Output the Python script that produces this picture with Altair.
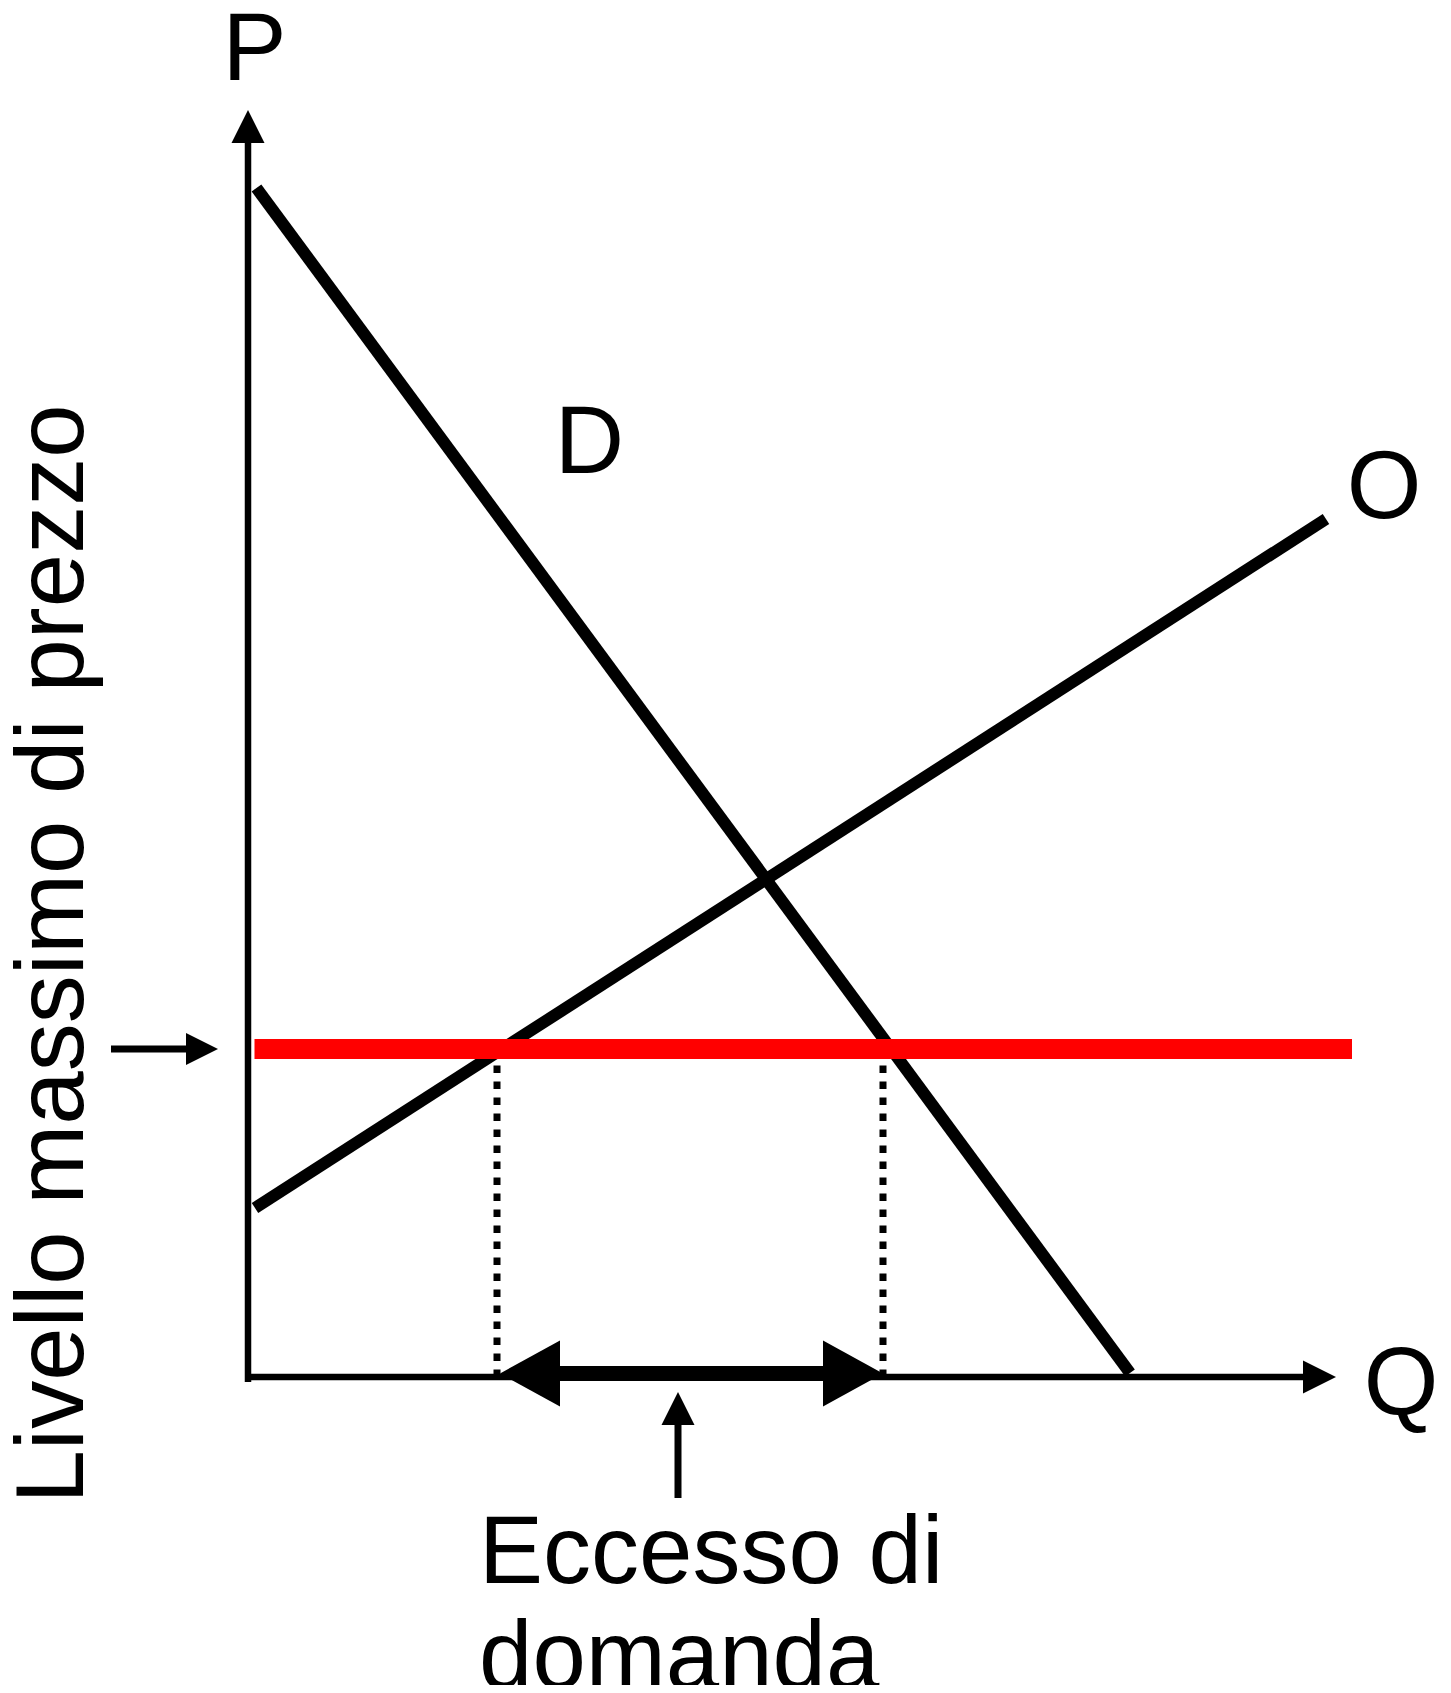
import altair as alt
import pandas as pd

# ---- data (units: Q horizontal, P vertical; 1 unit = 10 px) ----
demand_q = [0.85, 88.2]
demand_p = [118.9, 0.4]
supply_q = [0.7, 107.8]
supply_p = [16.9, 85.8]
ceiling_p = 32.8
ceiling_q = [0.65, 110.4]
qs_at_ceiling = 24.9   # quantity supplied at the ceiling
qd_at_ceiling = 63.5   # quantity demanded at the ceiling

# axes
y_axis_q = 0.0
y_axis_p = [-0.5, 123.4, 126.7]   # bottom, head base, tip
x_axis_p = 0.0
x_axis_q = [-0.3, 105.5, 108.8]   # left, head base, tip

# annotation arrows
excess_arrow_p = 0.35
excess_tips = [25.2, 63.5]
excess_bases = [31.2, 57.6]
pointer_q = [-13.7, -6.2, -3.0]    # start, head base, tip (at ceiling price)
up_arrow_q = 43.0
up_arrow_p = [-12.1, -4.8, -1.5]   # start, head base, tip

# labels
labels = ["P", "Q", "D", "O"]
label_q = [0.65, 115.3, 34.15, 113.6]
label_p = [129.7, -3.8, 90.4, 85.9]
ytitle = "Livello massimo di prezzo"
ytitle_q, ytitle_p = -16.5, 42.3
excess_lines = ["Eccesso di", "domanda"]
excess_q = 23.1
excess_p = [-20.6, -31.1]

FONT = "Liberation Sans"
FS = 96

xs = alt.Scale(domain=[-24.0, 119.5], nice=False, zero=False)
ys = alt.Scale(domain=[-30.8, 136.9], nice=False, zero=False)


def X(f):
    return alt.X(f, type="quantitative", scale=xs, axis=None)


def Y(f):
    return alt.Y(f, type="quantitative", scale=ys, axis=None)


# curves
curves = pd.DataFrame({
    "q": demand_q + supply_q,
    "p": demand_p + supply_p,
    "s": ["D", "D", "O", "O"],
})
curve_layer = alt.Chart(curves).mark_line(color="black", strokeWidth=12, strokeCap="butt").encode(
    x=X("q"), y=Y("p"), detail="s:N")

# axes lines
axes = pd.DataFrame({
    "q": [y_axis_q, x_axis_q[0]],
    "q2": [y_axis_q, x_axis_q[1]],
    "p": [y_axis_p[0], x_axis_p],
    "p2": [y_axis_p[1], x_axis_p],
})
axes_layer = alt.Chart(axes).mark_rule(color="black", strokeWidth=6.5).encode(
    x=X("q"), x2="q2", y=Y("p"), y2="p2")

# dotted drop lines
drops = pd.DataFrame({
    "q": [qs_at_ceiling, qd_at_ceiling],
    "p": [0.0, 0.0],
    "p2": [ceiling_p, ceiling_p],
})
drop_layer = alt.Chart(drops).mark_rule(color="black", strokeWidth=7, strokeDash=[7.5, 8.5]).encode(
    x=X("q"), y=Y("p"), y2="p2")

# price ceiling
ceil = pd.DataFrame({"q": [ceiling_q[0]], "q2": [ceiling_q[1]], "p": [ceiling_p]})
ceil_layer = alt.Chart(ceil).mark_rule(color="#ff0000", strokeWidth=20, strokeCap="butt").encode(
    x=X("q"), x2="q2", y=Y("p"))

# arrow shafts
excess_shaft = pd.DataFrame({"q": [excess_bases[0] - 0.5], "q2": [excess_bases[1] + 0.5],
                             "p": [excess_arrow_p]})
excess_shaft_layer = alt.Chart(excess_shaft).mark_rule(color="black", strokeWidth=15).encode(
    x=X("q"), x2="q2", y=Y("p"))

thin_shafts = pd.DataFrame({
    "q": [pointer_q[0], up_arrow_q],
    "q2": [pointer_q[1] + 0.3, up_arrow_q],
    "p": [ceiling_p, up_arrow_p[0]],
    "p2": [ceiling_p, up_arrow_p[1] + 0.3],
})
thin_shaft_layer = alt.Chart(thin_shafts).mark_rule(color="black", strokeWidth=7).encode(
    x=X("q"), x2="q2", y=Y("p"), y2="p2")

# arrow heads: custom symbols with the tip at the anchor point
RIGHT_BIG = "M0,0L-2,-1.1L-2,1.1Z"
LEFT_BIG = "M0,0L2,-1.1L2,1.1Z"
RIGHT_SMALL = "M0,0L-2,-1L-2,1Z"
UP_SMALL = "M0,0L-1,2L1,2Z"


def head(q, p, shape, size):
    df = pd.DataFrame({"q": [q], "p": [p]})
    return alt.Chart(df).mark_point(shape=shape, size=size, filled=True, color="black",
                                    opacity=1, strokeWidth=0).encode(x=X("q"), y=Y("p"))


heads = [
    head(excess_tips[0], excess_arrow_p, LEFT_BIG, 3600),
    head(excess_tips[1], excess_arrow_p, RIGHT_BIG, 3600),
    head(x_axis_q[2], x_axis_p, RIGHT_SMALL, 1089),
    head(y_axis_q, y_axis_p[2], UP_SMALL, 1089),
    head(pointer_q[2], ceiling_p, RIGHT_SMALL, 1024),
    head(up_arrow_q, up_arrow_p[2], UP_SMALL, 1089),
]

# text
lab = pd.DataFrame({"t": labels, "q": label_q, "p": label_p})
lab_layer = alt.Chart(lab).mark_text(font=FONT, fontSize=FS, align="center", baseline="alphabetic",
                                     color="black").encode(x=X("q"), y=Y("p"), text="t:N")

yt = pd.DataFrame({"t": [ytitle], "q": [ytitle_q], "p": [ytitle_p]})
yt_layer = alt.Chart(yt).mark_text(font=FONT, fontSize=FS, align="center", baseline="alphabetic",
                                   angle=270, color="black").encode(x=X("q"), y=Y("p"), text="t:N")

ex = pd.DataFrame({"t": excess_lines, "q": [excess_q] * 2, "p": excess_p})
ex_layer = alt.Chart(ex).mark_text(font=FONT, fontSize=FS, align="left", baseline="alphabetic",
                                   color="black").encode(x=X("q"), y=Y("p"), text="t:N")

chart = alt.layer(
    axes_layer, curve_layer, drop_layer, ceil_layer, excess_shaft_layer, thin_shaft_layer,
    *heads, lab_layer, yt_layer, ex_layer,
).properties(
    width=1435, height=1677,
    autosize=alt.AutoSizeParams(type="none"),
    padding=0,
    background="white",
).configure_view(stroke=None)

chart.save("out.html", embed_options={"renderer": "svg", "actions": False})
